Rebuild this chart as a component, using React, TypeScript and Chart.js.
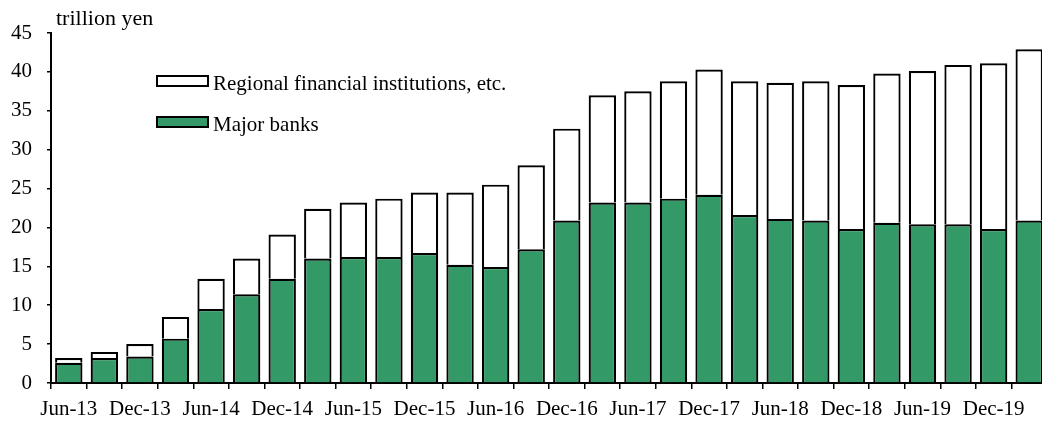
import React, { useEffect, useRef } from "react";
import { Chart, registerables } from "chart.js";

Chart.register(...registerables);

const categories = [
  "Jun-13", "Sep-13", "Dec-13", "Mar-14", "Jun-14", "Sep-14", "Dec-14", "Mar-15",
  "Jun-15", "Sep-15", "Dec-15", "Mar-16", "Jun-16", "Sep-16", "Dec-16", "Mar-17",
  "Jun-17", "Sep-17", "Dec-17", "Mar-18", "Jun-18", "Sep-18", "Dec-18", "Mar-19",
  "Jun-19", "Sep-19", "Dec-19", "Mar-20",
];

const majorBanks = [
  2.6, 3.2, 3.4, 5.7, 9.5, 11.4, 13.4, 16.0, 16.2, 16.2, 16.7, 15.2, 14.9, 17.2,
  20.9, 23.2, 23.2, 23.7, 24.2, 21.6, 21.1, 20.9, 19.8, 20.6, 20.4, 20.4, 19.8, 20.9,
];

const regional = [
  0.6, 0.8, 1.6, 2.8, 3.9, 4.6, 5.7, 6.4, 7.0, 7.5, 7.8, 9.3, 10.6, 10.8,
  11.8, 13.8, 14.3, 15.1, 16.1, 17.2, 17.5, 17.9, 18.5, 19.2, 19.7, 20.5, 21.3, 22.0,
];

const seriesLabels = ["Major banks", "Regional financial institutions, etc."];
const unitLabel = "trillion yen";

const GREEN = "rgb(51,153,102)";
const FONT = '"Liberation Serif", "Times New Roman", serif';

const extrasPlugin = {
  id: "extras",
  afterDraw(chart: any) {
    const ctx = chart.ctx;
    ctx.save();
    ctx.fillStyle = "#000";
    ctx.textBaseline = "alphabetic";
    ctx.textAlign = "left";
    ctx.font = `22px ${FONT}`;
    ctx.fillText(unitLabel, 56, 25);

    ctx.font = `21px ${FONT}`;
    const ds = chart.data.datasets;
    const order = [1, 0];
    order.forEach((di, i) => {
      const d = ds[di];
      const y = 76 + i * 41;
      ctx.fillStyle = d.backgroundColor;
      ctx.fillRect(157, y, 51, 10);
      ctx.strokeStyle = "#000";
      ctx.lineWidth = 2;
      ctx.strokeRect(157, y, 51, 10);
      ctx.fillStyle = "#000";
      ctx.fillText(d.label, 213, y + 13.5);
    });
    ctx.restore();
  },
};

export default function App() {
  const ref = useRef<HTMLCanvasElement>(null);

  useEffect(() => {
    if (!ref.current) return;
    const chart = new Chart(ref.current, {
      type: "bar",
      data: {
        labels: categories,
        datasets: [
          {
            label: seriesLabels[0],
            data: majorBanks,
            backgroundColor: GREEN,
            borderColor: "#000",
            borderWidth: 2.2,
            barPercentage: 0.77,
            categoryPercentage: 1,
          },
          {
            label: seriesLabels[1],
            data: regional,
            backgroundColor: "#ffffff",
            borderColor: "#000",
            borderWidth: 2.2,
            barPercentage: 0.77,
            categoryPercentage: 1,
          },
        ],
      },
      options: {
        responsive: false,
        animation: false,
        devicePixelRatio: 1,
        layout: { padding: { left: 0, top: 33, right: 3, bottom: 0 } },
        plugins: {
          legend: { display: false },
          tooltip: { enabled: false },
          title: { display: false },
        },
        scales: {
          x: {
            stacked: true,
            grid: {
              display: true,
              drawOnChartArea: false,
              drawTicks: true,
              tickLength: 6,
              color: "#000",
              lineWidth: 1.5,
              offset: true,
            },
            border: { display: true, color: "#000", width: 2 },
            ticks: {
              autoSkip: false,
              maxRotation: 0,
              minRotation: 0,
              color: "#000",
              padding: 8,
              font: { family: FONT, size: 21 },
              callback: (_v: any, i: number) => (i % 2 === 0 ? categories[i] : ""),
            },
            afterFit: (s: any) => {
              s.height = 38;
            },
          },
          y: {
            stacked: true,
            min: 0,
            max: 45,
            grid: {
              display: true,
              drawOnChartArea: false,
              drawTicks: true,
              tickLength: 4,
              color: "#000",
              lineWidth: 1.5,
            },
            border: { display: true, color: "#000", width: 2 },
            ticks: {
              stepSize: 5,
              color: "#000",
              padding: 15,
              font: { family: FONT, size: 21 },
            },
            afterFit: (s: any) => {
              s.width = 51;
            },
          },
        },
      },
      plugins: [extrasPlugin],
    });
    return () => chart.destroy();
  }, []);

  return (
    <div style={{ position: "fixed", left: 0, top: 0, width: 1050, height: 421, background: "#fff" }}>
      <canvas ref={ref} width={1050} height={421} style={{ width: 1050, height: 421, display: "block" }} />
    </div>
  );
}
